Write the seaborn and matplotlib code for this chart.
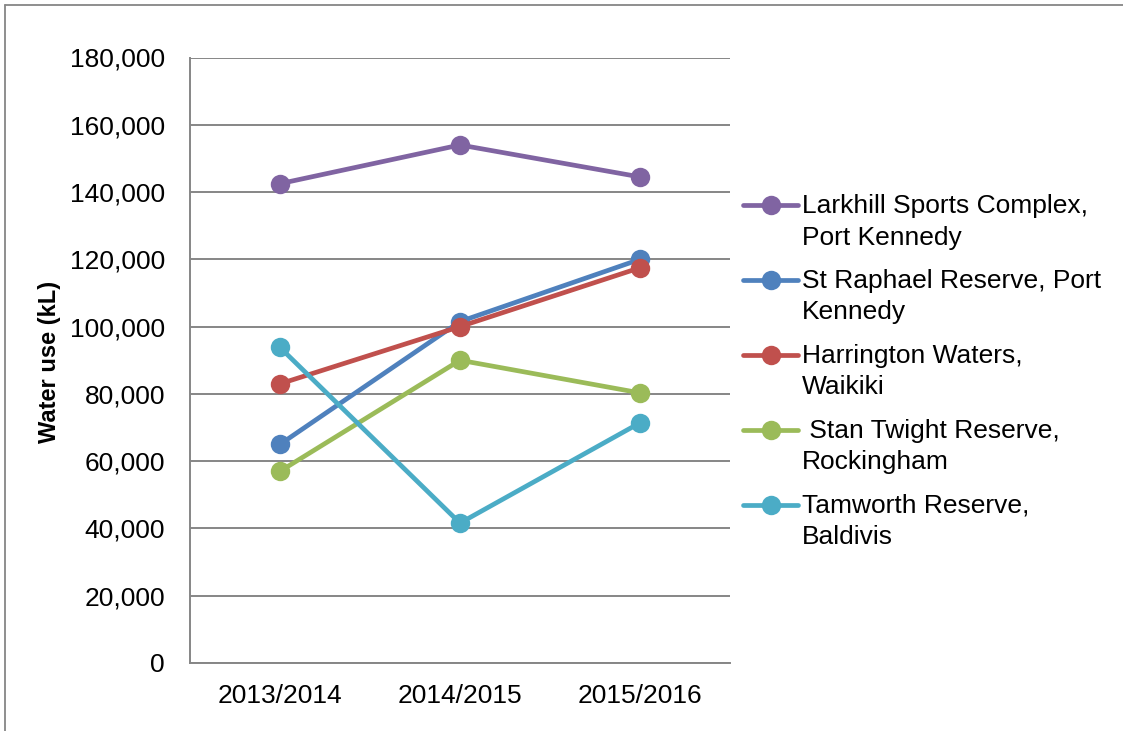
import matplotlib
matplotlib.use("Agg")
import matplotlib.pyplot as plt
from matplotlib.lines import Line2D
from matplotlib.legend_handler import HandlerLine2D
import numpy as np
import pandas as pd
import seaborn as sns

# Water use per reserve, by financial year (kL)
years = ["2013/2014", "2014/2015", "2015/2016"]
larkhill = [142500, 154000, 144500]
st_raphael = [65000, 101500, 120000]
harrington = [83000, 100000, 117500]
stan_twight = [57000, 90000, 80300]
tamworth = [93800, 41600, 71400]

series_names = [
    "Larkhill Sports Complex, Port Kennedy",
    "St Raphael Reserve, Port Kennedy",
    "Harrington Waters, Waikiki",
    " Stan Twight Reserve, Rockingham",
    "Tamworth Reserve, Baldivis",
]
legend_labels = [
    "Larkhill Sports Complex,\nPort Kennedy",
    "St Raphael Reserve, Port\nKennedy",
    "Harrington Waters,\nWaikiki",
    " Stan Twight Reserve,\nRockingham",
    "Tamworth Reserve,\nBaldivis",
]
colors = ["#8064A2", "#4F81BD", "#C0504D", "#9BBB59", "#4BACC6"]
y_ticks = [0, 20000, 40000, 60000, 80000, 100000, 120000, 140000, 160000, 180000]

values = [larkhill, st_raphael, harrington, stan_twight, tamworth]
rows = []
for name, vals in zip(series_names, values):
    for yr, v in zip(years, vals):
        rows.append({"Year": yr, "Site": name, "Water use": v})
df = pd.DataFrame(rows)

sns.set_theme(style="white")
plt.rcParams["font.family"] = ["Liberation Sans", "DejaVu Sans"]
plt.rcParams["text.color"] = "black"

LW = 3.4
MS = 14
LEG_FS = 19
LINE_SPACING = 1.4

fig = plt.figure(figsize=(11.23, 7.31), dpi=100)
ax = fig.add_axes([190 / 1123, 1 - 663 / 731, 540 / 1123, (663 - 57.5) / 731])

sns.lineplot(
    data=df, x="Year", y="Water use", hue="Site", hue_order=series_names,
    palette=colors, marker="o", markersize=MS, markeredgewidth=0,
    linewidth=LW, sort=False, ax=ax, legend=False,
)

ax.set_xlim(-0.5, 2.5)
ax.set_ylim(0, 180000)
ax.set_yticks(y_ticks)
ax.set_yticklabels([f"{t:,}" for t in y_ticks])
ax.grid(axis="y", color="#868686", linewidth=1.4)
ax.set_axisbelow(True)
for side in ["top", "right"]:
    ax.spines[side].set_visible(False)
for side in ["left", "bottom"]:
    ax.spines[side].set_color("#868686")
    ax.spines[side].set_linewidth(1.4)
ax.tick_params(axis="both", length=0, labelsize=19, colors="black")
ax.tick_params(axis="y", pad=18)
ax.tick_params(axis="x", pad=15)
ax.set_xlabel("")
ax.set_ylabel("Water use (kL)", fontsize=17, fontweight="bold", color="black")
ax.yaxis.set_label_coords(61 / 1123, 1 - 362 / 731, transform=fig.transFigure)


class FirstLineHandler(HandlerLine2D):
    """Line handle aligned with the first line of a two-line label."""

    def create_artists(self, legend, orig_handle, xdescent, ydescent,
                       width, height, fontsize, trans):
        artists = super().create_artists(legend, orig_handle, xdescent, ydescent,
                                         width, height, fontsize, trans)
        shift = 0.5 * LINE_SPACING * fontsize * 0.9
        for a in artists:
            a.set_ydata(np.asarray(a.get_ydata()) + shift)
        return artists


handles = [
    Line2D([], [], color=c, linewidth=LW, marker="o", markersize=MS, markeredgewidth=0)
    for c in colors
]
leg = fig.legend(
    handles, legend_labels, loc="upper left",
    bbox_to_anchor=(743 / 1123, 1 - 194 / 731), frameon=False,
    fontsize=LEG_FS, handlelength=2.1, handletextpad=0.15, labelspacing=0.73,
    borderaxespad=0, borderpad=0,
    handler_map={Line2D: FirstLineHandler()},
)
for t in leg.get_texts():
    t.set_color("black")
    t.set_linespacing(LINE_SPACING)

# Outer frame lines along the top and left edges
fig.add_artist(Line2D([4.5 / 1123, 1], [1 - 4.5 / 731, 1 - 4.5 / 731],
                      transform=fig.transFigure, color="#868686", linewidth=1.3))
fig.add_artist(Line2D([4.5 / 1123, 4.5 / 1123], [0, 1 - 4.5 / 731],
                      transform=fig.transFigure, color="#868686", linewidth=1.3))

fig.savefig("out.png", dpi=100, facecolor="white")
